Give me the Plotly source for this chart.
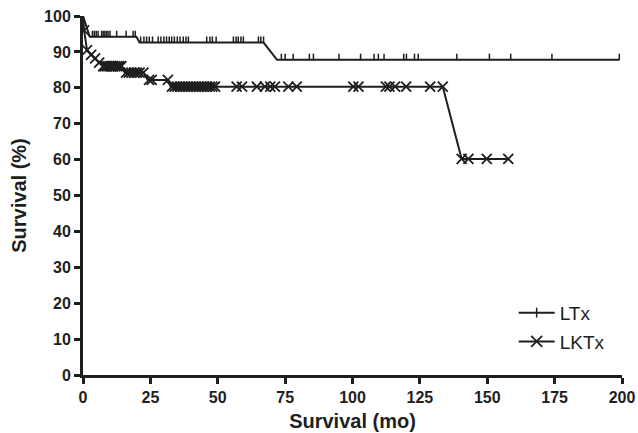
import numpy as np
import plotly.graph_objects as go

# ---- data ----
# Kaplan-Meier curve vertices (time in months, survival %)
ltx_time = [0, 1.0, 2.5, 19.8, 21.0, 67.0, 72.0, 199.0]
ltx_surv = [100, 97.5, 94.2, 94.2, 92.6, 92.6, 87.8, 87.8]
ltx_censor = [3.5, 4.2, 4.9, 5.6, 6.9, 7.5, 8.1, 8.7, 9.3, 10.0, 12.5, 16.0, 18.6, 19.4,
              21.4, 22.6, 23.6, 24.6, 25.8, 27.9, 28.9, 30.0, 31.0, 32.0, 32.9, 33.9, 35.0,
              36.0, 37.2, 38.2, 39.1, 45.9, 47.1, 48.0, 49.4, 55.8, 56.8, 57.6, 58.6, 59.5,
              65.1, 66.0, 67.0,
              73.6, 75.0, 78.0, 84.0, 85.5, 95.0, 103.0, 108.0, 109.6, 111.7, 119.0, 120.0,
              123.0, 124.4, 138.7, 150.8, 158.7, 174.0, 199.0]

lktx_time = [0, 0.4, 1.5, 3.0, 4.5, 6.0, 7.5, 14.5, 15.5, 22.5, 24.0, 31.5, 32.5, 133.5, 140.5, 157.8]
lktx_surv = [100, 96.0, 90.5, 89.2, 88.2, 87.0, 86.0, 86.0, 84.2, 84.2, 82.2, 82.2, 80.3, 80.3, 60.2, 60.2]
lktx_censor = [0.4, 1.5, 3.0, 4.5, 6.0,
               7.5, 8.2, 9.0, 9.8, 10.5, 11.2, 12.0, 12.8, 13.5, 14.2,
               16.0, 17.0, 18.0, 19.0, 20.0, 21.0, 22.4,
               24.5, 25.5, 31.5,
               33, 34, 35, 36, 37, 38, 39, 40, 41, 42, 43, 44, 45, 46, 47, 48, 49,
               57.0, 59.0, 64.5, 67.5, 69.5, 71.2, 76.2, 79.3, 100.3, 102.2, 112.4, 113.7,
               115.8, 119.9, 128.8, 133.5,
               140.5, 143.0, 149.8, 157.8]

x_ticks = [0, 25, 50, 75, 100, 125, 150, 175, 200]
y_ticks = [0, 10, 20, 30, 40, 50, 60, 70, 80, 90, 100]


def step_lookup(times, surv, t):
    """Survival level of the curve at time t (last vertex at or before t)."""
    idx = np.searchsorted(np.array(times), np.array(t), side="right") - 1
    return list(np.array(surv)[idx])


INK = "#1e1e1e"
FONT = "Liberation Sans, Arial, Helvetica, sans-serif"

fig = go.Figure()

# LTx curve
fig.add_trace(go.Scatter(x=ltx_time, y=ltx_surv, mode="lines",
                         line=dict(color=INK, width=2), showlegend=False, hoverinfo="skip"))
# LTx censor ticks (upward ticks)
fig.add_trace(go.Scatter(x=ltx_censor, y=step_lookup(ltx_time, ltx_surv, ltx_censor),
                         mode="markers", marker=dict(size=1, color=INK),
                         error_y=dict(type="constant", value=1.7, valueminus=0, symmetric=False,
                                      width=0, thickness=1.5, color=INK),
                         showlegend=False))
# LKTx curve
fig.add_trace(go.Scatter(x=lktx_time, y=lktx_surv, mode="lines",
                         line=dict(color=INK, width=2), showlegend=False, hoverinfo="skip"))
# LKTx censor X marks
fig.add_trace(go.Scatter(x=lktx_censor, y=step_lookup(lktx_time, lktx_surv, lktx_censor),
                         mode="markers",
                         marker=dict(symbol="x-thin-open", size=10, color=INK,
                                     line=dict(width=1.8, color=INK)),
                         showlegend=False))

# legend entries
fig.add_trace(go.Scatter(x=[None], y=[None], mode="lines+markers", name="LTx",
                         legendgroup="a",
                         line=dict(color=INK, width=2),
                         marker=dict(symbol="line-ns-open", size=7, color=INK,
                                     line=dict(width=1.5, color=INK))))
fig.add_trace(go.Scatter(x=[None], y=[None], mode="lines+markers", name="LKTx",
                         legendgroup="b",
                         line=dict(color=INK, width=2),
                         marker=dict(symbol="x-thin-open", size=11, color=INK,
                                     line=dict(width=1.8, color=INK))))

axis_common = dict(
    showline=True, linecolor=INK, linewidth=3, mirror=False,
    ticks="outside", ticklen=6, tickwidth=2.5, tickcolor=INK,
    showgrid=False, zeroline=False,
    tickfont=dict(family=FONT, size=16, color=INK, weight="bold"),
)

fig.update_layout(
    width=638, height=433,
    margin=dict(l=83, r=16, t=16, b=58, autoexpand=False),
    paper_bgcolor="white", plot_bgcolor="white",
    font=dict(family=FONT, color=INK),
    xaxis=dict(range=[0, 200], tickvals=x_ticks, automargin=False,
               title=dict(text="Survival (mo)", standoff=9,
                          font=dict(family=FONT, size=20, color=INK, weight="bold")),
               **axis_common),
    yaxis=dict(range=[0, 100], tickvals=y_ticks, automargin=False,
               title=dict(text="Survival (%)", standoff=13,
                          font=dict(family=FONT, size=20, color=INK, weight="bold")),
               **axis_common),
    legend=dict(x=0.799, y=0.226, xanchor="left", yanchor="top",
                font=dict(family=FONT, size=19, color=INK),
                traceorder="grouped", tracegroupgap=1,
                bgcolor="rgba(0,0,0,0)", itemwidth=36),
    showlegend=True,
)

# remove the browser's default 8px body margin so the figure fills the window
fig.write_html("out.html",
               config={"displayModeBar": False},
               post_script="document.body.style.margin='0';document.body.style.overflow='hidden';")
